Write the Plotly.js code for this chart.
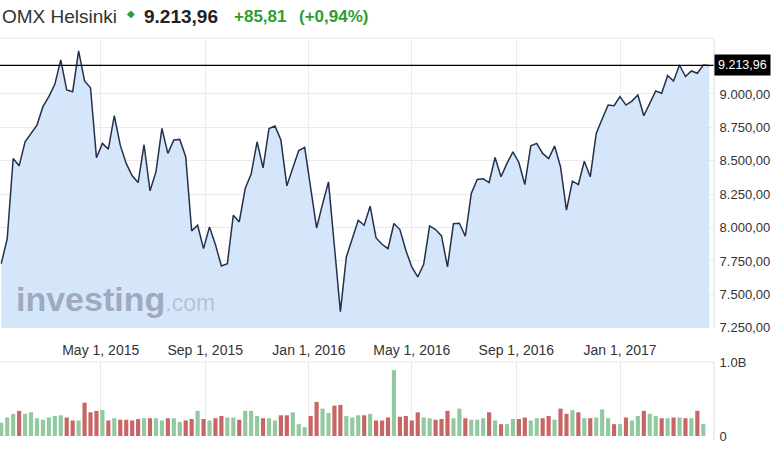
<!DOCTYPE html>
<html><head><meta charset="utf-8">
<script src="https://cdn.plot.ly/plotly-3.0.1.min.js"></script>
<style>html,body{margin:0;padding:0;background:#fff}#chart{width:778px;height:452px}</style>
</head><body><div id="chart"></div>
<script>
const dates = [
'2015-01-04','2015-01-11','2015-01-18','2015-01-25','2015-02-01','2015-02-08','2015-02-15','2015-02-22','2015-03-01','2015-03-08',
'2015-03-15','2015-03-22','2015-03-29','2015-04-05','2015-04-12','2015-04-19','2015-04-26','2015-05-03','2015-05-10','2015-05-17',
'2015-05-24','2015-05-31','2015-06-07','2015-06-14','2015-06-21','2015-06-28','2015-07-05','2015-07-12','2015-07-19','2015-07-26',
'2015-08-02','2015-08-09','2015-08-16','2015-08-23','2015-08-30','2015-09-06','2015-09-13','2015-09-20','2015-09-27','2015-10-04',
'2015-10-11','2015-10-18','2015-10-25','2015-11-01','2015-11-08','2015-11-15','2015-11-22','2015-11-29','2015-12-06','2015-12-13',
'2015-12-20','2015-12-27','2016-01-03','2016-01-10','2016-01-17','2016-01-24','2016-01-31','2016-02-07','2016-02-14','2016-02-21',
'2016-02-28','2016-03-06','2016-03-13','2016-03-20','2016-03-27','2016-04-03','2016-04-10','2016-04-17','2016-04-24','2016-05-01',
'2016-05-08','2016-05-15','2016-05-22','2016-05-29','2016-06-05','2016-06-12','2016-06-19','2016-06-26','2016-07-03','2016-07-10',
'2016-07-17','2016-07-24','2016-07-31','2016-08-07','2016-08-14','2016-08-21','2016-08-28','2016-09-04','2016-09-11','2016-09-18',
'2016-09-25','2016-10-02','2016-10-09','2016-10-16','2016-10-23','2016-10-30','2016-11-06','2016-11-13','2016-11-20','2016-11-27',
'2016-12-04','2016-12-11','2016-12-18','2016-12-25','2017-01-01','2017-01-08','2017-01-15','2017-01-22','2017-01-29','2017-02-05',
'2017-02-12','2017-02-19','2017-02-26','2017-03-05','2017-03-12','2017-03-19','2017-03-26','2017-04-02','2017-04-09','2017-04-16'];

const closes = [
7730,7917,8517,8462,8642,8705,8767,8905,8980,9072,
9255,9030,9017,9322,9097,9047,8522,8630,8587,8837,
8617,8480,8387,8337,8620,8275,8417,8742,8555,8655,
8660,8530,7975,8017,7842,8005,7872,7712,7730,8092,
8042,8292,8400,8642,8447,8742,8760,8655,8312,8445,
8577,8600,8280,7997,8175,8342,7858,7370,7780,7922,
8055,8017,8160,7922,7875,7842,8030,7985,7830,7705,
7630,7725,8012,7985,7937,7705,8028,8032,7935,8255,
8360,8365,8337,8525,8380,8480,8567,8487,8322,8612,
8630,8555,8517,8610,8455,8130,8347,8322,8497,8380,
8705,8812,8917,8912,8980,8917,8947,8992,8837,8930,
9022,9005,9137,9097,9217,9130,9172,9155,9217,9213.96];

const volumesB = [
0.18,0.25,0.30,0.34,0.30,0.32,0.24,0.22,0.25,0.27,
0.28,0.25,0.21,0.21,0.45,0.32,0.34,0.35,0.21,0.24,
0.22,0.22,0.21,0.23,0.24,0.24,0.24,0.21,0.24,0.24,
0.19,0.21,0.23,0.34,0.23,0.21,0.24,0.27,0.25,0.25,
0.22,0.34,0.34,0.27,0.24,0.24,0.21,0.28,0.28,0.32,
0.16,0.12,0.27,0.46,0.37,0.31,0.41,0.42,0.27,0.25,
0.28,0.28,0.30,0.21,0.21,0.25,0.89,0.26,0.27,0.21,
0.32,0.25,0.24,0.22,0.23,0.34,0.24,0.37,0.24,0.22,
0.22,0.24,0.32,0.21,0.16,0.16,0.23,0.23,0.25,0.21,
0.24,0.24,0.27,0.22,0.37,0.30,0.35,0.32,0.24,0.24,
0.25,0.36,0.24,0.16,0.16,0.25,0.21,0.27,0.34,0.30,
0.27,0.24,0.24,0.25,0.25,0.24,0.24,0.34,0.16,null];

const priceTicks = [7250,7500,7750,8000,8250,8500,8750,9000];
const priceTickText = ['7.250,00','7.500,00','7.750,00','8.000,00','8.250,00','8.500,00','8.750,00','9.000,00'];
const xTickDates = ['2015-05-01','2015-09-01','2016-01-01','2016-05-01','2016-09-01','2017-01-01'];
const xTickText = ['May 1, 2015','Sep 1, 2015','Jan 1, 2016','May 1, 2016','Sep 1, 2016','Jan 1, 2017'];
const volTicks = [0, 1e9];
const volTickText = ['0','1.0B'];
const lastValue = 9213.96;
const lastLabel = '9.213,96';
const titleName = 'OMX Helsinki';
const changeAbs = '+85,81';
const changePct = '(+0,94%)';

// ---- layout helpers (pixel -> paper) ----
const W = 778, H = 452, ML = 0, MR = 64, MT = 38, MB = 16;
const PW = W - ML - MR, PH = H - MT - MB;
const px = x => (x - ML) / PW;
const py = y => (H - MB - y) / PH;

const GREEN = '#2e9e33';
const volume = volumesB.map(v => v == null ? null : v * 1e9);
const volColors = closes.map((c, i) => (i === 0 || c >= closes[i - 1]) ? '#92c9a1' : '#c86565');

const FONT = 'Arial, "Liberation Sans", sans-serif';

const traces = [
  {
    x: dates, y: closes, type: 'scatter', mode: 'lines',
    line: {color: '#24304c', width: 1.5},
    fill: 'tozeroy', fillcolor: '#d6e6fa',
    xaxis: 'x', yaxis: 'y', hoverinfo: 'skip'
  },
  {
    x: dates, y: volume, type: 'bar',
    marker: {color: volColors, line: {width: 0}},
    xaxis: 'x2', yaxis: 'y2', hoverinfo: 'skip'
  }
];

const xRange = ['2015-01-02 12:00', '2017-04-21 14:00'];

const layout = {
  width: W, height: H,
  margin: {l: ML, r: MR, t: MT, b: MB, pad: 0},
  paper_bgcolor: '#fff', plot_bgcolor: '#fff',
  showlegend: false,
  bargap: 0.3,
  font: {family: FONT, color: '#333', size: 13},
  xaxis: {
    type: 'date', range: xRange, domain: [0, 1], anchor: 'y',
    tickvals: xTickDates, ticktext: xTickText,
    tickfont: {size: 14, color: '#333', family: FONT},
    ticks: 'outside', ticklen: 9, tickcolor: 'rgba(0,0,0,0)',
    showgrid: true, gridcolor: '#ebebeb', gridwidth: 1,
    showline: false, zeroline: false, fixedrange: true
  },
  yaxis: {
    domain: [py(328), 1], anchor: 'x', side: 'right',
    range: [7248, 9419],
    tickvals: priceTicks, ticktext: priceTickText,
    tickfont: {size: 13, color: '#333', family: FONT},
    ticks: 'outside', ticklen: 2, tickcolor: 'rgba(0,0,0,0)',
    showgrid: true, gridcolor: '#ebebeb', gridwidth: 1,
    showline: false, zeroline: false, fixedrange: true
  },
  xaxis2: {
    type: 'date', range: xRange, domain: [0, 1], anchor: 'y2',
    tickvals: xTickDates, showticklabels: false,
    showgrid: true, gridcolor: '#ebebeb', gridwidth: 1,
    showline: false, zeroline: false, fixedrange: true
  },
  yaxis2: {
    domain: [0, py(362)], anchor: 'x2', side: 'right',
    range: [0, 1e9],
    tickvals: volTicks, ticktext: volTickText,
    tickfont: {size: 13, color: '#333', family: FONT},
    ticks: 'outside', ticklen: 2, tickcolor: 'rgba(0,0,0,0)',
    showgrid: false, showline: false, zeroline: false, fixedrange: true
  },
  shapes: [
    {type: 'line', xref: 'paper', yref: 'y', x0: 0, x1: 1, y0: lastValue, y1: lastValue,
     line: {color: '#000', width: 1.3}},
    {type: 'line', xref: 'paper', yref: 'paper', x0: 0, x1: 1, y0: 1, y1: 1, line: {color: '#e4e4e4', width: 1}},
    {type: 'line', xref: 'paper', yref: 'paper', x0: 1, x1: 1, y0: py(328), y1: 1, line: {color: '#dcdcdc', width: 1}},
    {type: 'line', xref: 'paper', yref: 'paper', x0: 0, x1: 1, y0: py(362), y1: py(362), line: {color: '#e4e4e4', width: 1}},
    {type: 'line', xref: 'paper', yref: 'paper', x0: 1, x1: 1, y0: py(440), y1: py(362), line: {color: '#dcdcdc', width: 1}}
  ],
  annotations: [
    {xref: 'paper', yref: 'paper', x: px(0), y: py(16), xanchor: 'left', yanchor: 'middle', showarrow: false,
     text: titleName, font: {size: 19, color: '#333', family: FONT}},
    {xref: 'paper', yref: 'paper', x: px(131), y: py(13), xanchor: 'center', yanchor: 'middle', showarrow: false,
     text: '◆', font: {size: 10, color: GREEN, family: 'DejaVu Sans'}},
    {xref: 'paper', yref: 'paper', x: px(142), y: py(16), xanchor: 'left', yanchor: 'middle', showarrow: false,
     text: '<b>' + lastLabel + '</b>', font: {size: 19, color: '#222', family: FONT}},
    {xref: 'paper', yref: 'paper', x: px(232), y: py(16), xanchor: 'left', yanchor: 'middle', showarrow: false,
     text: '<b>' + changeAbs + '</b>', font: {size: 17, color: GREEN, family: FONT}},
    {xref: 'paper', yref: 'paper', x: px(297), y: py(16), xanchor: 'left', yanchor: 'middle', showarrow: false,
     text: '<b>' + changePct + '</b>', font: {size: 17, color: GREEN, family: FONT}},
    {xref: 'paper', yref: 'y', x: 1, y: lastValue, xanchor: 'left', yanchor: 'middle', showarrow: false,
     text: lastLabel, bgcolor: '#000', borderpad: 3, font: {size: 12.5, color: '#fff', family: FONT}},
    {xref: 'paper', yref: 'paper', x: px(14), y: py(299), xanchor: 'left', yanchor: 'middle', showarrow: false,
     text: '<b>investing</b><span style="font-size:23px;font-weight:normal;color:rgba(132,142,158,0.65)">.com</span>',
     font: {size: 34, color: 'rgba(120,130,148,0.62)', family: FONT}}
  ]
};

Plotly.newPlot('chart', traces, layout, {displayModeBar: false, staticPlot: true});
</script>
</body></html>
